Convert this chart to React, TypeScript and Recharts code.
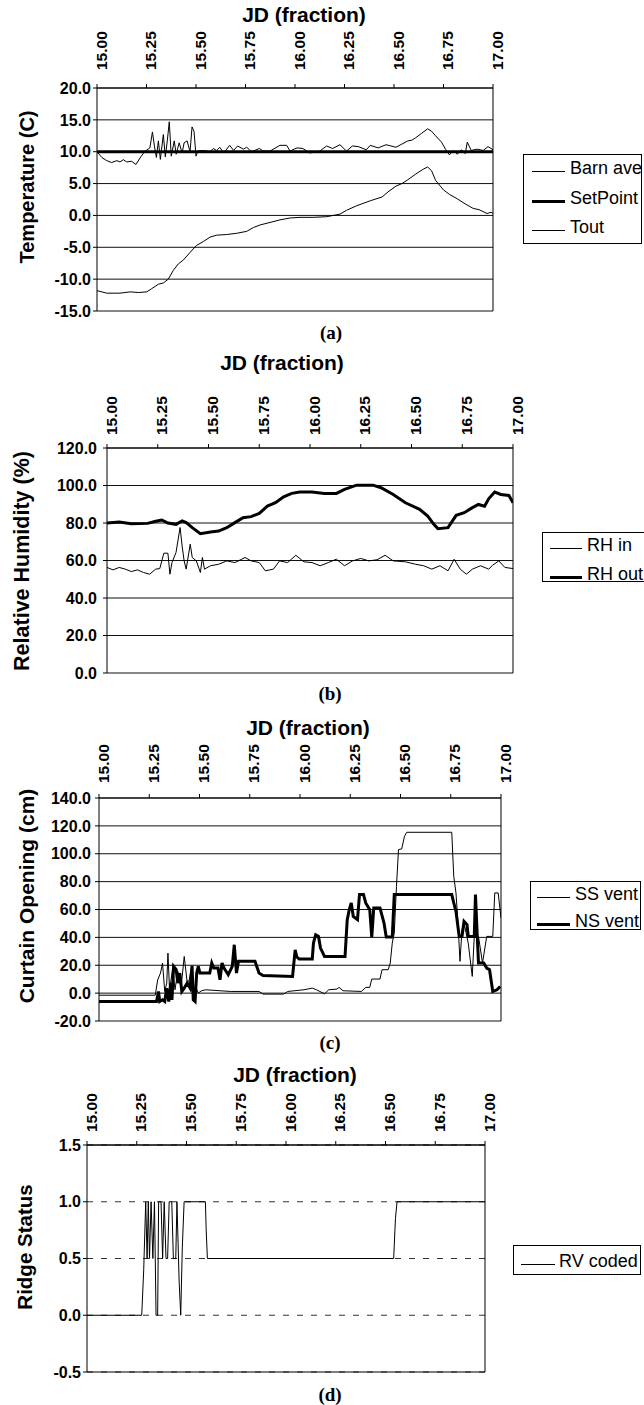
import React from 'react';
import { LineChart, Line, XAxis, YAxis, CartesianGrid, ReferenceLine, Legend } from 'recharts';

type Pt = [number, number];

// JD axis (shared by all four panels)
const jdTicks = [15, 15.25, 15.5, 15.75, 16, 16.25, 16.5, 16.75, 17];

const tempTicks = [-15, -10, -5, 0, 5, 10, 15, 20];
const rhTicks = [0, 20, 40, 60, 80, 100, 120];
const curtainTicks = [-20, 0, 20, 40, 60, 80, 100, 120, 140];
const ridgeTicks = [-0.5, 0, 0.5, 1, 1.5];

// (a) temperature
const barnAve: Pt[] = [
  [15.0, 10.0], [15.024, 9.1], [15.049, 8.6], [15.074, 8.3], [15.1, 8.6], [15.116, 8.4],
  [15.133, 8.75], [15.15, 8.4], [15.175, 8.5], [15.197, 8.0], [15.217, 9.0], [15.24, 10.0],
  [15.267, 10.6], [15.28, 13.1], [15.29, 10.9], [15.3, 9.1], [15.31, 11.7], [15.32, 8.8],
  [15.335, 12.7], [15.345, 9.2], [15.355, 11.7], [15.365, 14.7], [15.375, 9.3], [15.39, 11.7],
  [15.4, 9.6], [15.415, 11.4], [15.43, 9.8], [15.44, 11.4], [15.455, 11.7], [15.47, 10.0],
  [15.48, 13.9], [15.49, 13.2], [15.5, 9.3], [15.51, 10.1], [15.537, 10.2], [15.571, 10.0],
  [15.587, 10.5], [15.604, 10.2], [15.62, 10.7], [15.64, 9.8], [15.67, 11.0], [15.69, 10.2],
  [15.71, 10.9], [15.74, 10.4], [15.756, 10.7], [15.78, 10.0], [15.82, 10.5], [15.84, 10.1],
  [15.874, 10.1], [15.924, 11.0], [15.958, 11.0], [15.975, 10.1], [16.01, 10.6], [16.04, 10.5],
  [16.075, 9.8], [16.125, 10.1], [16.16, 10.9], [16.19, 10.5], [16.227, 11.1], [16.26, 10.1],
  [16.29, 10.9], [16.32, 10.8], [16.36, 10.3], [16.38, 11.0], [16.42, 10.6], [16.46, 11.1],
  [16.51, 10.7], [16.54, 11.2], [16.57, 11.7], [16.59, 11.8], [16.61, 12.2], [16.64, 12.9],
  [16.67, 13.6], [16.69, 13.2], [16.71, 12.5], [16.74, 11.5], [16.76, 10.4], [16.78, 9.5],
  [16.8, 10.2], [16.82, 9.6], [16.84, 10.3], [16.86, 9.7], [16.87, 11.5], [16.89, 10.2],
  [16.92, 10.4], [16.95, 10.2], [16.975, 10.8], [17.0, 10.3],
];
const setPoint: Pt[] = [[15.0, 10.0], [17.0, 10.0]];
const tout: Pt[] = [
  [15.0, -11.8], [15.049, -12.2], [15.116, -12.2], [15.167, -12.0], [15.209, -12.1], [15.251, -12.0],
  [15.276, -11.5], [15.31, -10.8], [15.335, -10.6], [15.36, -10.0], [15.386, -8.6], [15.411, -7.6],
  [15.436, -7.0], [15.47, -5.8], [15.503, -4.7], [15.537, -4.1], [15.571, -3.4], [15.604, -3.1],
  [15.655, -3.0], [15.706, -2.8], [15.756, -2.5], [15.79, -1.9], [15.823, -1.5], [15.874, -1.1],
  [15.924, -0.7], [15.975, -0.4], [16.025, -0.3], [16.092, -0.3], [16.16, -0.2], [16.227, 0.2],
  [16.26, 0.8], [16.31, 1.5], [16.38, 2.3], [16.44, 2.9], [16.47, 3.7], [16.51, 4.6],
  [16.54, 5.0], [16.57, 5.6], [16.61, 6.5], [16.65, 7.3], [16.67, 7.6], [16.69, 7.0],
  [16.71, 5.5], [16.75, 4.0], [16.78, 3.3], [16.82, 2.6], [16.86, 1.8], [16.9, 1.1],
  [16.93, 0.9], [16.97, 0.3], [16.99, 0.5], [17.0, 0.3],
];

// (b) relative humidity
const rhIn: Pt[] = [
  [15.0, 56.3], [15.03, 55.0], [15.06, 56.3], [15.09, 55.4], [15.12, 54.1], [15.15, 55.0],
  [15.18, 53.6], [15.21, 52.7], [15.24, 55.4], [15.26, 55.7], [15.28, 63.9], [15.3, 63.9],
  [15.31, 52.7], [15.32, 58.9], [15.34, 64.3], [15.36, 77.6], [15.37, 67.8], [15.38, 59.8],
  [15.39, 55.4], [15.41, 68.7], [15.42, 61.6], [15.44, 59.8], [15.46, 53.6], [15.47, 61.6],
  [15.48, 55.4], [15.51, 57.2], [15.55, 58.0], [15.59, 59.8], [15.63, 58.9], [15.68, 61.6],
  [15.71, 59.8], [15.75, 58.9], [15.78, 54.5], [15.82, 55.4], [15.85, 59.8], [15.89, 58.9],
  [15.93, 62.8], [15.97, 59.3], [16.01, 58.9], [16.05, 57.2], [16.09, 58.9], [16.13, 60.7],
  [16.17, 57.2], [16.21, 59.8], [16.25, 61.1], [16.29, 59.8], [16.33, 60.4], [16.37, 62.8],
  [16.41, 59.8], [16.47, 59.3], [16.52, 58.0], [16.56, 57.2], [16.6, 55.4], [16.64, 57.2],
  [16.68, 54.5], [16.71, 60.7], [16.74, 55.4], [16.77, 52.7], [16.8, 55.4], [16.84, 57.2],
  [16.88, 55.4], [16.9, 57.5], [16.93, 59.8], [16.96, 56.3], [17.0, 55.7],
];
const rhOut: Pt[] = [
  [15.0, 80.0], [15.06, 80.5], [15.12, 79.6], [15.2, 79.8], [15.24, 80.9], [15.27, 81.6],
  [15.3, 80.0], [15.34, 79.3], [15.37, 81.1], [15.39, 80.2], [15.42, 77.5], [15.46, 74.3],
  [15.51, 75.2], [15.55, 75.7], [15.59, 77.5], [15.63, 80.2], [15.67, 82.8], [15.71, 83.4],
  [15.75, 85.1], [15.79, 89.0], [15.83, 90.8], [15.87, 94.0], [15.91, 95.8], [15.95, 96.5],
  [16.01, 96.5], [16.07, 95.8], [16.13, 95.8], [16.17, 97.9], [16.23, 100.2], [16.31, 100.2],
  [16.35, 98.8], [16.41, 95.2], [16.47, 90.8], [16.54, 87.3], [16.58, 83.7], [16.61, 79.3],
  [16.63, 77.0], [16.68, 77.5], [16.72, 84.1], [16.76, 85.5], [16.8, 88.2], [16.83, 89.9],
  [16.86, 89.0], [16.88, 92.9], [16.91, 96.5], [16.94, 95.2], [16.98, 94.7], [17.0, 90.8],
];

// (c) curtain opening
const ssVent: Pt[] = [
  [15.0, -1.5], [15.28, -1.5], [15.292, 9.6], [15.306, 14.4], [15.316, 21.6], [15.327, 1.2],
  [15.337, 7.2], [15.343, 28.7], [15.351, 2.4], [15.367, 18.0], [15.378, 2.4], [15.392, 15.6],
  [15.408, 3.6], [15.424, 26.3], [15.439, 7.2], [15.449, 9.6], [15.461, 19.2], [15.469, 0.0],
  [15.48, 4.8], [15.494, 0.0], [15.51, 1.7], [15.531, 2.4], [15.653, 1.2], [15.796, 1.2],
  [15.816, -0.7], [15.918, -0.7], [15.939, 1.2], [16.02, 2.4], [16.061, 3.6], [16.082, 2.4],
  [16.122, -0.5], [16.143, 2.4], [16.184, 2.9], [16.194, 4.1], [16.214, 1.7], [16.306, 1.2],
  [16.327, 4.1], [16.347, 4.1], [16.357, 10.1], [16.398, 10.1], [16.408, 16.8], [16.439, 16.8],
  [16.449, 21.6], [16.459, 35.9], [16.469, 43.1], [16.48, 76.6], [16.49, 103.0], [16.506, 103.5],
  [16.52, 112.6], [16.531, 115.4], [16.755, 115.4], [16.765, 83.8], [16.776, 71.9], [16.786, 50.3],
  [16.796, 22.8], [16.806, 45.5], [16.816, 50.3], [16.837, 35.9], [16.857, 12.0], [16.867, 40.7],
  [16.888, 40.7], [16.908, 21.6], [16.929, 40.7], [16.959, 40.7], [16.969, 71.9], [16.986, 71.9],
  [17.0, 53.9],
];
const nsVent: Pt[] = [
  [15.0, -6.0], [15.286, -6.0], [15.296, 1.2], [15.302, -6.0], [15.316, -4.8], [15.327, -6.0],
  [15.337, 3.6], [15.347, -6.0], [15.357, 7.2], [15.363, -4.8], [15.371, 19.2], [15.384, 16.8],
  [15.392, 7.2], [15.402, 14.4], [15.412, 1.2], [15.424, 3.6], [15.439, 7.2], [15.453, 3.6],
  [15.463, 19.6], [15.469, -4.8], [15.478, -6.0], [15.486, 14.4], [15.494, 19.2], [15.502, 14.4],
  [15.551, 14.4], [15.561, 21.6], [15.571, 18.0], [15.592, 18.0], [15.602, 9.6], [15.612, 21.6],
  [15.622, 18.0], [15.643, 13.2], [15.663, 19.2], [15.673, 34.7], [15.684, 14.4], [15.694, 22.8],
  [15.776, 22.8], [15.796, 14.4], [15.816, 12.7], [15.963, 12.0], [15.976, 31.0], [15.984, 26.0],
  [15.996, 24.5], [16.061, 24.5], [16.067, 35.9], [16.078, 41.9], [16.092, 40.7], [16.102, 32.3],
  [16.122, 26.3], [16.224, 26.3], [16.235, 52.7], [16.245, 59.9], [16.255, 64.7], [16.265, 55.1],
  [16.286, 52.7], [16.296, 70.7], [16.316, 70.7], [16.327, 64.7], [16.347, 59.9], [16.357, 40.2],
  [16.367, 61.1], [16.398, 61.1], [16.418, 50.3], [16.429, 40.2], [16.459, 40.2], [16.469, 70.7],
  [16.755, 70.7], [16.765, 64.7], [16.776, 58.7], [16.792, 40.7], [16.806, 40.7], [16.816, 51.5],
  [16.831, 49.1], [16.837, 40.7], [16.867, 40.7], [16.873, 70.7], [16.882, 40.7], [16.888, 21.6],
  [16.914, 21.6], [16.929, 18.0], [16.943, 16.8], [16.959, 1.2], [16.98, 2.4], [16.996, 4.8],
];

// (d) ridge vent status
const rvCoded: Pt[] = [
  [15.0, 0], [15.275, 0], [15.285, 0.4], [15.295, 1.0], [15.302, 0.5], [15.308, 1.0],
  [15.314, 0.5], [15.322, 1.0], [15.331, 0.5], [15.339, 1.0], [15.347, 0.0], [15.355, 0.0],
  [15.36, 1.0], [15.372, 1.0], [15.38, 0.5], [15.388, 1.0], [15.397, 0.5], [15.405, 0.5],
  [15.413, 1.0], [15.426, 1.0], [15.434, 0.5], [15.446, 0.5], [15.452, 1.0], [15.463, 0.3],
  [15.471, 0.0], [15.479, 0.6], [15.488, 1.0], [15.595, 1.0], [15.599, 0.75], [15.605, 0.5],
  [16.541, 0.5], [16.55, 0.85], [16.558, 1.0], [17.0, 1.0],
];

const FONT = '"Liberation Sans", Arial, Helvetica, sans-serif';
const SERIF = '"Liberation Serif", "Times New Roman", serif';

interface Series { name: string; points: Pt[]; width: number }
interface Box { left: number; top: number; width: number; height: number; rows: number[]; lineX: number; lineW: number; textX: number }
interface PanelCfg {
  top: number; height: number;
  plot: { left: number; top: number; right: number; bottom: number };
  yTicks: number[]; yTickGap: number; xTickGap: number;
  yTitle: string; yTitleX: number; yTitleY: number; yTitleSize: number;
  titleX: number; titleY: number;
  caption: string; captionX: number; captionY: number;
  series: Series[];
  legend: Box;
  dashed?: boolean;
}

const rows = (pts: Pt[]) => pts.map(([x, y]) => ({ x, y }));

function TopTick(props: any) {
  const { x, y, payload } = props;
  return (
    <text x={x} y={y} dy={9.5} transform={`rotate(-90 ${x} ${y})`} textAnchor="start"
      fontSize={15.5} fontWeight="bold" fill="#000" fontFamily={FONT}>
      {Number(payload.value).toFixed(2)}
    </text>
  );
}

function LegendBox({ cfg, series }: { cfg: Box; series: Series[] }) {
  return (
    <div style={{ position: 'relative', width: cfg.width, height: cfg.height, boxSizing: 'border-box',
      border: '1px solid #000', background: '#fff', fontFamily: FONT, fontSize: 18, color: '#000' }}>
      {series.map((s, i) => (
        <div key={s.name} style={{ position: 'absolute', left: 0, top: cfg.rows[i] - 11, height: 22, width: '100%' }}>
          <div style={{ position: 'absolute', left: cfg.lineX, top: 15 - Math.ceil(s.width / 2), width: cfg.lineW, height: s.width, background: '#000' }} />
          <span style={{ position: 'absolute', left: cfg.textX, top: 0, lineHeight: '22px', whiteSpace: 'nowrap' }}>{s.name}</span>
        </div>
      ))}
    </div>
  );
}

function Panel({ cfg }: { cfg: PanelCfg }) {
  const { plot } = cfg;
  const yMin = cfg.yTicks[0];
  const yMax = cfg.yTicks[cfg.yTicks.length - 1];
  const overlay: React.CSSProperties = { position: 'absolute', whiteSpace: 'nowrap', fontFamily: FONT, fontWeight: 'bold', color: '#000', zIndex: 2 };
  return (
    <div style={{ position: 'absolute', left: 0, top: cfg.top, width: 644, height: cfg.height }}>
      <LineChart width={644} height={cfg.height}
        margin={{ top: 0, left: 0, right: 644 - plot.right, bottom: cfg.height - plot.bottom }}>
        <CartesianGrid vertical={false} stroke={cfg.dashed ? '#333' : '#111'}
          strokeDasharray={cfg.dashed ? '6 8' : undefined} />
        <XAxis orientation="top" type="number" dataKey="x" domain={[15, 17]} ticks={jdTicks} interval={0}
          height={plot.top} tickSize={4} tickMargin={cfg.xTickGap} tick={<TopTick />}
          axisLine={{ stroke: '#000' }} tickLine={{ stroke: '#000' }} allowDataOverflow />
        <YAxis type="number" domain={[yMin, yMax]} ticks={cfg.yTicks} interval={0} width={plot.left}
          tickSize={4} tickMargin={cfg.yTickGap} tickFormatter={(v: number) => v.toFixed(1)}
          tick={{ fontSize: 16, fontWeight: 'bold', fill: '#000', fontFamily: FONT }}
          axisLine={{ stroke: '#000' }} tickLine={{ stroke: '#000' }} allowDataOverflow />
        <ReferenceLine x={17} stroke="#000" />
        {cfg.dashed && <ReferenceLine y={yMax} stroke="#000" />}
        {cfg.dashed && <ReferenceLine y={yMin} stroke="#000" />}
        {cfg.series.map((s) => (
          <Line key={s.name} data={rows(s.points)} dataKey="y" name={s.name} type="linear"
            stroke="#000" strokeWidth={s.width} dot={false} activeDot={false} isAnimationActive={false} />
        ))}
        <Legend layout="vertical" align="center" verticalAlign="middle"
          wrapperStyle={{ left: cfg.legend.left, top: cfg.legend.top, width: cfg.legend.width, height: cfg.legend.height }}
          content={() => <LegendBox cfg={cfg.legend} series={cfg.series} />} />
      </LineChart>
      <div style={{ ...overlay, left: cfg.titleX, top: cfg.titleY, fontSize: 21, transform: 'translate(-50%, -50%)' }}>
        JD (fraction)
      </div>
      <div style={{ ...overlay, left: cfg.yTitleX, top: cfg.yTitleY, fontSize: cfg.yTitleSize,
        transform: 'translate(-50%, -50%) rotate(-90deg)' }}>
        {cfg.yTitle}
      </div>
      <div style={{ ...overlay, left: cfg.captionX, top: cfg.captionY, fontSize: 19, fontFamily: SERIF,
        transform: 'translate(-50%, -50%)' }}>
        {cfg.caption}
      </div>
    </div>
  );
}

const panels: PanelCfg[] = [
  {
    top: 0, height: 340, plot: { left: 97, top: 88, right: 493, bottom: 311 },
    yTicks: tempTicks, yTickGap: 2, xTickGap: 14,
    yTitle: 'Temperature (C)', yTitleX: 27, yTitleY: 187, yTitleSize: 20,
    titleX: 304, titleY: 15, caption: '(a)', captionX: 331, captionY: 333,
    series: [
      { name: 'Barn ave', points: barnAve, width: 1 },
      { name: 'SetPoint', points: setPoint, width: 3 },
      { name: 'Tout', points: tout, width: 1 },
    ],
    legend: { left: 523, top: 154, width: 119, height: 90, rows: [13, 43, 72], lineX: 8, lineW: 33, textX: 46 },
  },
  {
    top: 340, height: 350, plot: { left: 107, top: 108, right: 513, bottom: 333 },
    yTicks: rhTicks, yTickGap: 6, xTickGap: 9,
    yTitle: 'Relative Humidity (%)', yTitleX: 22, yTitleY: 221, yTitleSize: 21.5,
    titleX: 282, titleY: 23, caption: '(b)', captionX: 330, captionY: 354,
    series: [
      { name: 'RH in', points: rhIn, width: 1 },
      { name: 'RH out', points: rhOut, width: 3 },
    ],
    legend: { left: 542, top: 192, width: 112, height: 50, rows: [12, 41], lineX: 7, lineW: 32, textX: 44 },
  },
  {
    top: 690, height: 350, plot: { left: 99, top: 108, right: 501, bottom: 331 },
    yTicks: curtainTicks, yTickGap: 4, xTickGap: 11,
    yTitle: 'Curtain Opening (cm)', yTitleX: 27, yTitleY: 206, yTitleSize: 21,
    titleX: 308, titleY: 38, caption: '(c)', captionX: 330, captionY: 353,
    series: [
      { name: 'SS vent', points: ssVent, width: 1 },
      { name: 'NS vent', points: nsVent, width: 3 },
    ],
    legend: { left: 530, top: 191, width: 111, height: 49, rows: [12, 39], lineX: 6, lineW: 33, textX: 44 },
  },
  {
    top: 1040, height: 365, plot: { left: 87, top: 105, right: 485, bottom: 332 },
    yTicks: ridgeTicks, yTickGap: 2, xTickGap: 9, dashed: true,
    yTitle: 'Ridge Status', yTitleX: 25, yTitleY: 207, yTitleSize: 20.5,
    titleX: 295, titleY: 35, caption: '(d)', captionX: 330, captionY: 355,
    series: [{ name: 'RV coded', points: rvCoded, width: 1 }],
    legend: { left: 513, top: 205, width: 128, height: 30, rows: [15], lineX: 7, lineW: 34, textX: 45 },
  },
];

export default function App() {
  return (
    <div style={{ position: 'absolute', left: 0, top: 0, width: 644, height: 1405, overflow: 'hidden', background: '#fff' }}>
      {panels.map((p) => (
        <Panel key={p.caption} cfg={p} />
      ))}
    </div>
  );
}
